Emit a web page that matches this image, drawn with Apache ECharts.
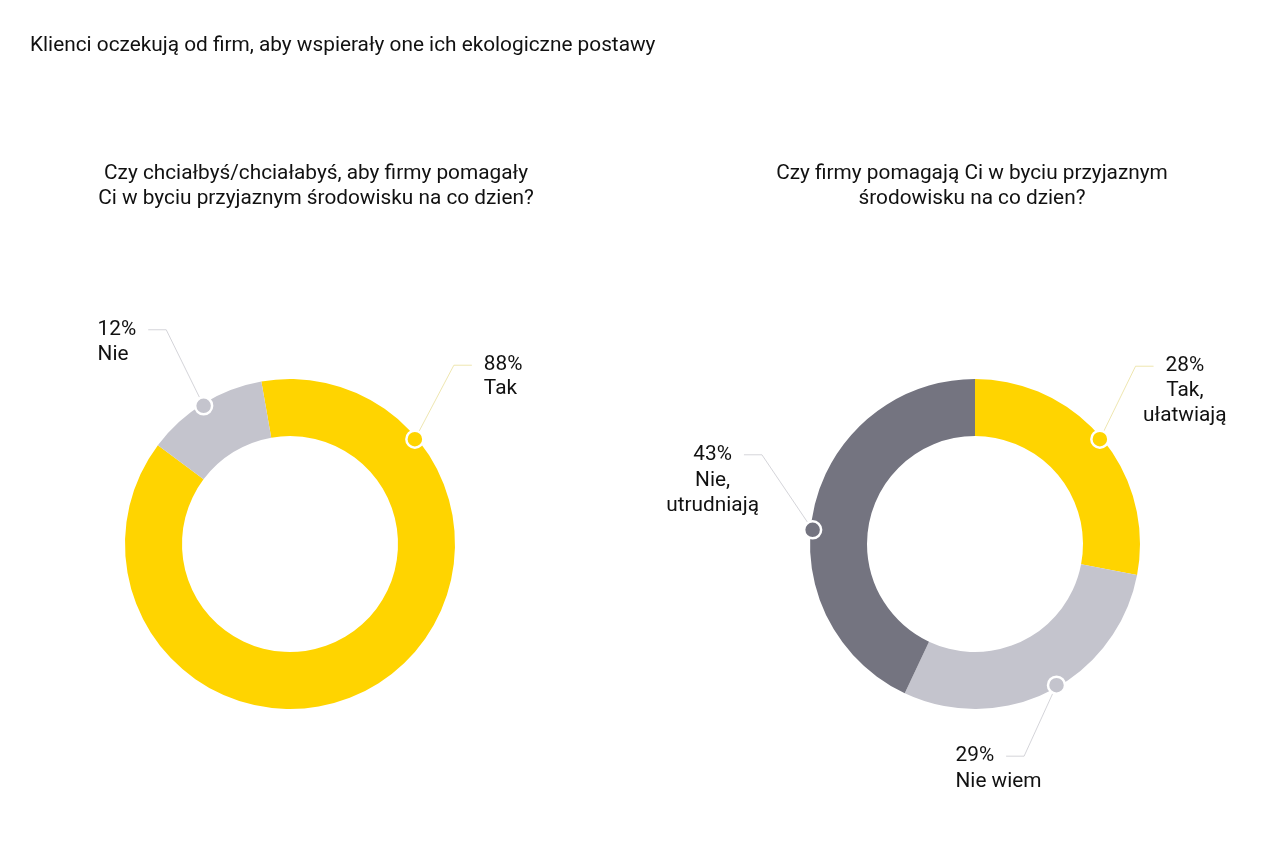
<!DOCTYPE html>
<html>
<head>
    <meta charset="utf-8">
    <title>ECharts</title>
    <script src="https://cdn.jsdelivr.net/npm/echarts@6/dist/echarts.min.js"></script>
    <style>
        * {
            margin: 0;
            padding: 0;
        }
    </style>
</head>
<body>
    <div id="main" style="width: 1280px; height: 853px;"></div>
    <script type="text/javascript">
        // data
        var leftNames = ['Tak', 'Nie'];
        var leftValues = [88, 12];
        var rightNames = ['Tak,\nułatwiają', 'Nie wiem', 'Nie,\nutrudniają'];
        var rightValues = [28, 29, 43];
        // where the callout dots sit on each ring (degrees clockwise from 12 o'clock)
        var leftDotAngles = [50, 328];
        var rightDotAngles = [50, 150, 275];

        var YELLOW = '#FFD400', LIGHT = '#C4C4CD', DARK = '#747480';
        var leftColors = [YELLOW, LIGHT];
        var rightColors = [YELLOW, LIGHT, DARK];
        var FONT = 'Roboto';
        var FS = 20.8;
        var TEXT = '#111';

        // label offsets from the dot: [dx, dyPercent, dyName, align]
        var leftLabelPos = [[69, -74, -50, 'left'], [-106, -76, -51, 'left']];
        var rightLabelPos = [[85, -73, -36, 'center'], [-101, 71, 97, 'left'], [-100, -75, -36, 'center']];

        var R_IN = 108, R_OUT = 165, R_DOT = 163;

        var myChart = echarts.init(document.getElementById('main'));

        function pie(names, values, colors, center, startAngle) {
            return {
                type: 'pie',
                center: center,
                radius: [R_IN, R_OUT],
                startAngle: startAngle,
                silent: true,
                label: { show: false },
                labelLine: { show: false },
                data: names.map(function (n, i) {
                    return { name: n, value: values[i], itemStyle: { color: colors[i] } };
                })
            };
        }

        function dots(polarIndex, angles, colors, texts, pos, isPct) {
            return {
                type: 'scatter',
                coordinateSystem: 'polar',
                polarIndex: polarIndex,
                silent: true,
                symbol: 'circle',
                symbolSize: isPct ? 17 : 0.1,
                z: isPct ? 5 : 4,
                itemStyle: { opacity: 1 },
                label: {
                    show: true,
                    position: 'inside',
                    color: TEXT,
                    fontFamily: FONT,
                    fontSize: FS,
                    lineHeight: 25,
                    padding: isPct ? [0, 12] : 0,
                    formatter: function (p) { return texts[p.dataIndex]; }
                },
                labelLine: {
                    show: isPct,
                    length2: 18,
                    lineStyle: { width: 0.8 }
                },
                labelLayout: function (p) {
                    var o = pos[p.dataIndex];
                    var pad = (isPct && o[3] === 'left') ? -12 : 0;
                    return { dx: o[0] + pad, dy: isPct ? o[1] : o[2], align: o[3], verticalAlign: 'middle' };
                },
                data: angles.map(function (a, i) {
                    return {
                        value: [R_DOT, a],
                        itemStyle: isPct ? { color: colors[i], borderColor: '#fff', borderWidth: 2.5, opacity: 1 }
                                         : { color: 'transparent', opacity: 1 },
                        labelLine: { lineStyle: { color: colors[i] === YELLOW ? '#eadf9c' : '#c9c9cf' } }
                    };
                })
            };
        }

        function polar(center) {
            return { center: center, radius: R_OUT };
        }

        var option = {
            backgroundColor: '#fff',
            animation: false,
            title: [
                {
                    text: 'Klienci oczekują od firm, aby wspierały one ich ekologiczne postawy',
                    left: 30, top: 35, padding: 0,
                    textStyle: { fontFamily: FONT, fontSize: FS, fontWeight: 'normal', color: '#111' }
                },
                {
                    text: 'Czy chciałbyś/chciałabyś, aby firmy pomagały\nCi w byciu przyjaznym środowisku na co dzien?',
                    left: 316, top: 161, padding: 0, textAlign: 'center',
                    textStyle: { fontFamily: FONT, fontSize: FS, fontWeight: 'normal', color: '#111', lineHeight: 25 }
                },
                {
                    text: 'Czy firmy pomagają Ci w byciu przyjaznym\nśrodowisku na co dzien?',
                    left: 972, top: 161, padding: 0, textAlign: 'center',
                    textStyle: { fontFamily: FONT, fontSize: FS, fontWeight: 'normal', color: '#111', lineHeight: 25 }
                }
            ],
            polar: [polar([290, 544]), polar([975, 544])],
            angleAxis: [
                { polarIndex: 0, type: 'value', min: 0, max: 360, startAngle: 90, clockwise: true, show: false },
                { polarIndex: 1, type: 'value', min: 0, max: 360, startAngle: 90, clockwise: true, show: false }
            ],
            radiusAxis: [
                { polarIndex: 0, type: 'value', min: 0, max: R_OUT, show: false },
                { polarIndex: 1, type: 'value', min: 0, max: R_OUT, show: false }
            ],
            series: [
                pie(leftNames, leftValues, leftColors, [290, 544], 100),
                pie(rightNames, rightValues, rightColors, [975, 544], 90),
                dots(0, leftDotAngles, leftColors, leftValues.map(function (v) { return v + '%'; }), leftLabelPos, true),
                dots(0, leftDotAngles, leftColors, leftNames, leftLabelPos, false),
                dots(1, rightDotAngles, rightColors, rightValues.map(function (v) { return v + '%'; }), rightLabelPos, true),
                dots(1, rightDotAngles, rightColors, rightNames, rightLabelPos, false)
            ]
        };

        myChart.setOption(option);
    </script>
</body>
</html>
